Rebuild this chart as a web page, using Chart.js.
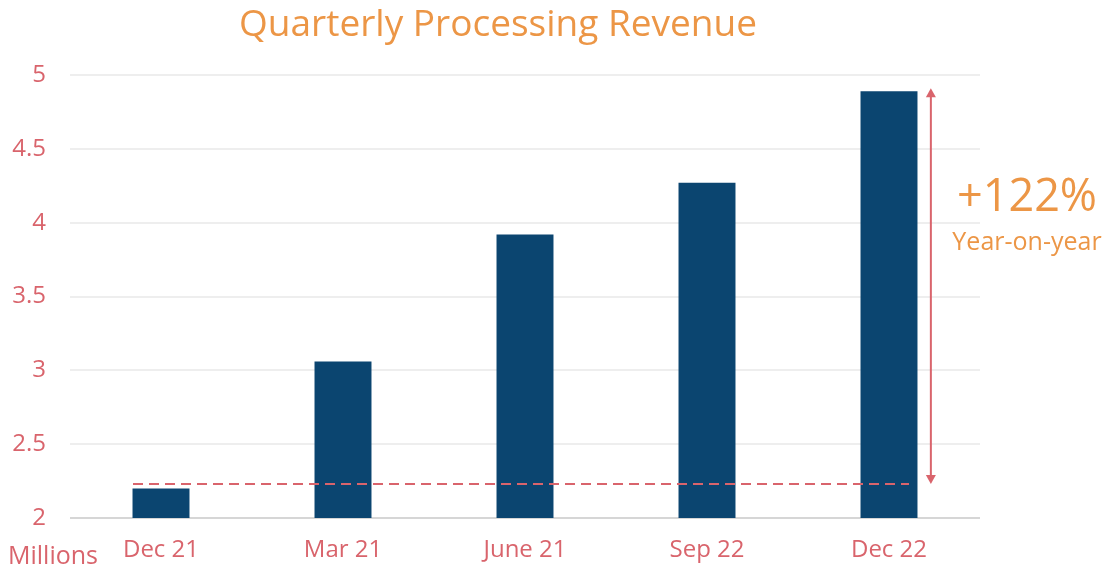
<!DOCTYPE html>
<html>
<head>
<meta charset="utf-8">
<script src="https://cdn.jsdelivr.net/npm/chart.js@4"></script>
<style>
  html, body { margin: 0; padding: 0; background: #fff; }
  #wrap { width: 1119px; height: 569px; }
</style>
</head>
<body>
<div id="wrap"><canvas id="revenueChart" width="1119" height="569"></canvas></div>
<script>
// data
const quarters = ["Dec 21", "Mar 21", "June 21", "Sep 22", "Dec 22"];
const revenue = [2.20, 3.06, 3.92, 4.27, 4.89];
const baseLevel = 2.23;      // dashed reference line (Dec 21 level)
const arrowTop = 4.91;
const growthLabel = "+122%";
const growthSub = "Year-on-year";
const titleText = "Quarterly Processing Revenue";
const unitText = "Millions";

const navy = "#0b4570";
const rose = "#d9646c";
const orange = "#ec9646";
const fontName = "'Open Sans', 'DejaVu Sans', sans-serif";

// draws the dashed baseline, the arrow and the annotation texts
const overlayPlugin = {
  id: "overlay",
  afterDraw(chart) {
    const ctx = chart.ctx;
    const xs = chart.scales.x;
    const ys = chart.scales.y;

    ctx.save();
    // dashed line
    let yBase = ys.getPixelForValue(baseLevel);
    let x0 = xs.getPixelForValue(0) - 28;
    let x1 = xs.getPixelForValue(4) + 20;
    ctx.strokeStyle = rose;
    ctx.lineWidth = 2;
    ctx.setLineDash([10, 6]);
    ctx.beginPath();
    ctx.moveTo(x0, yBase);
    ctx.lineTo(x1, yBase);
    ctx.stroke();
    ctx.setLineDash([]);

    // double arrow
    let ax = xs.getPixelForValue(4.23);
    let yTop = ys.getPixelForValue(arrowTop);
    ctx.beginPath();
    ctx.moveTo(ax, yTop + 6);
    ctx.lineTo(ax, yBase - 6);
    ctx.stroke();
    ctx.fillStyle = rose;
    ctx.beginPath();
    ctx.moveTo(ax, yTop);
    ctx.lineTo(ax - 5, yTop + 9);
    ctx.lineTo(ax + 5, yTop + 9);
    ctx.closePath();
    ctx.fill();
    ctx.beginPath();
    ctx.moveTo(ax, yBase);
    ctx.lineTo(ax - 5, yBase - 9);
    ctx.lineTo(ax + 5, yBase - 9);
    ctx.closePath();
    ctx.fill();

    // annotation text
    ctx.fillStyle = orange;
    ctx.textAlign = "center";
    ctx.textBaseline = "middle";
    ctx.font = "45px " + fontName;
    ctx.fillText(growthLabel, 1027, 198);
    ctx.font = "25px " + fontName;
    ctx.fillText(growthSub, 1027, 243);

    // title
    ctx.font = "37px " + fontName;
    ctx.fillText(titleText, 498, 25);

    // unit label
    ctx.fillStyle = rose;
    ctx.textAlign = "left";
    ctx.font = "25px " + fontName;
    ctx.fillText(unitText, 8, 557);
    ctx.restore();
  }
};

new Chart(document.getElementById("revenueChart"), {
  type: "bar",
  data: {
    labels: quarters,
    datasets: [{
      data: revenue,
      backgroundColor: navy,
      barPercentage: 0.313,
      categoryPercentage: 1.0
    }]
  },
  options: {
    responsive: false,
    animation: false,
    layout: { padding: { left: 0, right: 139, top: 75, bottom: 0 } },
    plugins: {
      legend: { display: false },
      tooltip: { enabled: false }
    },
    scales: {
      x: {
        afterFit(scale) { scale.height = 51; },
        grid: { display: false, drawTicks: false },
        border: { display: false },
        ticks: { color: rose, font: { family: fontName, size: 24 }, padding: 18 }
      },
      y: {
        min: 2,
        max: 5,
        afterFit(scale) { scale.width = 70; },
        grid: {
          drawTicks: false,
          color: ctx => ctx.tick && ctx.tick.value === 2 ? "#d6d6d6" : "#eeeeee",
          lineWidth: 2
        },
        border: { display: false },
        ticks: {
          stepSize: 0.5,
          color: rose,
          font: { family: fontName, size: 24 },
          padding: 24,
          callback: v => String(v)
        }
      }
    }
  },
  plugins: [overlayPlugin]
});
</script>
</body>
</html>
